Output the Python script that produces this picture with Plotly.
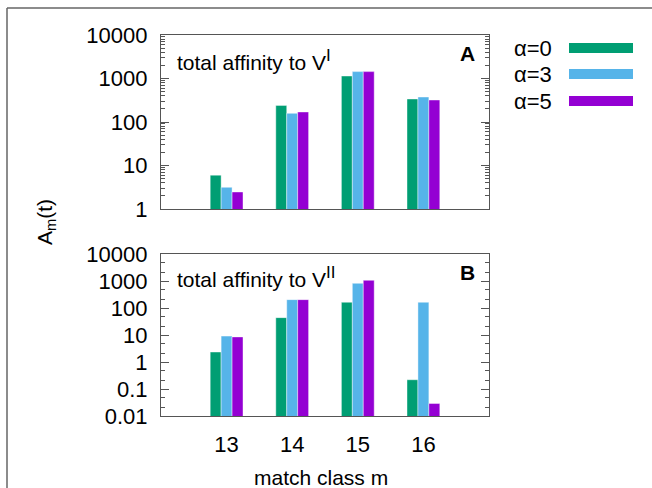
import plotly.graph_objects as go

categories = [13, 14, 15, 16]
series_names = ["α=0", "α=3", "α=5"]
colors = ["#009E73", "#56B4E9", "#9400D3"]

# Panel A: total affinity to V^I
panel_a = [
    [6.0, 241, 1140, 338],
    [3.15, 158, 1440, 375],
    [2.46, 170, 1440, 320],
]
# Panel B: total affinity to V^II
panel_b = [
    [2.34, 44, 163, 0.22],
    [9.1, 204, 820, 163],
    [8.5, 204, 1060, 0.029],
]

a_tickvals = [1, 10, 100, 1000, 10000]
a_ticktext = ["1", "10", "100", "1000", "10000"]
b_tickvals = [0.01, 0.1, 1, 10, 100, 1000, 10000]
b_ticktext = ["0.01", "0.1", "1", "10", "100", "1000", "10000"]

FONT = "Liberation Sans, Arial, sans-serif"
FS = 21
TFS = 22
AX = "#555555"

fig = go.Figure()
for vals, name, col in zip(panel_a, series_names, colors):
    fig.add_trace(go.Bar(x=categories, y=vals, name=name, marker_color=col,
                         marker_line=dict(color="rgba(255,255,255,0.7)", width=0.6),
                         xaxis="x", yaxis="y", showlegend=False))
for vals, name, col in zip(panel_b, series_names, colors):
    fig.add_trace(go.Bar(x=categories, y=vals, name=name, marker_color=col,
                         marker_line=dict(color="rgba(255,255,255,0.7)", width=0.6),
                         xaxis="x2", yaxis="y2", showlegend=False))

W, H = 652, 488
L, R, T, B = 161, 163, 35, 72
pw = W - L - R
ph = H - T - B

def px_x(p):
    return (p - L) / pw

def px_y(p):
    return 1 - (p - T) / ph

xcommon = dict(range=[12, 17], tickvals=categories, ticks="", showline=True,
               linecolor=AX, linewidth=1.2, mirror=True, showgrid=False,
               zeroline=False, tickfont=dict(size=TFS, color="black"))
ycommon = dict(type="log", showline=True, linecolor=AX, linewidth=1.2,
               mirror="ticks", ticks="inside", ticklen=8, tickcolor=AX,
               showgrid=False, zeroline=False, tickfont=dict(size=TFS, color="black"),
               ticklabelstandoff=8)

fig.update_layout(
    width=W, height=H,
    margin=dict(l=L, r=R, t=T, b=B),
    paper_bgcolor="white", plot_bgcolor="white",
    barmode="group", bargap=0.5, bargroupgap=0,
    font=dict(family=FONT, size=FS, color="black"),
    xaxis=dict(xcommon, domain=[0, 1], anchor="y", showticklabels=False),
    yaxis=dict(ycommon, domain=[px_y(209), 1], anchor="x", range=[0, 4],
               tickvals=a_tickvals, ticktext=a_ticktext,
               minor=dict(ticks="inside", ticklen=4, tickcolor=AX, dtick="D1")),
    xaxis2=dict(xcommon, domain=[0, 1], anchor="y2", showticklabels=True,
                ticklabelstandoff=8),
    yaxis2=dict(ycommon, domain=[0, px_y(254)], anchor="x2", range=[-2, 4],
                tickvals=b_tickvals, ticktext=b_ticktext,
                minor=dict(ticks="inside", ticklen=4, tickcolor=AX, dtick="D2")),
)

ann = [
    dict(x=px_x(175), y=px_y(60),
         text="total affinity to V<sup><span style='font-size:17px'>I</span></sup>",
         xanchor="left", yanchor="middle"),
    dict(x=px_x(175), y=px_y(277),
         text="total affinity to V<sup><span style='font-size:17px'>II</span></sup>",
         xanchor="left", yanchor="middle"),
    dict(x=px_x(477), y=px_y(53), text="<b>A</b>", xanchor="right", yanchor="middle"),
    dict(x=px_x(477), y=px_y(272), text="<b>B</b>", xanchor="right", yanchor="middle"),
    dict(x=px_x(321), y=px_y(477), text="match class m", xanchor="center", yanchor="middle"),
    dict(x=px_x(46), y=px_y(222), text="A<sub>m</sub>(t)", textangle=-90,
         xanchor="center", yanchor="middle"),
]
shapes = []
leg_y = [48, 74, 101]
for name, col, yy in zip(series_names, colors, leg_y):
    ann.append(dict(x=px_x(512), y=px_y(yy), text=name, xanchor="left", yanchor="middle",
                    font=dict(size=TFS)))
    shapes.append(dict(type="rect", xref="paper", yref="paper",
                       x0=px_x(569), x1=px_x(633), y0=px_y(yy + 5), y1=px_y(yy - 5),
                       fillcolor=col, line=dict(width=0)))

for a in ann:
    size = a.get("font", {}).get("size", FS)
    a.update(xref="paper", yref="paper", showarrow=False,
             font=dict(size=size, color="black", family=FONT))
fig.update_layout(annotations=ann)

# outer frame (top and left edges of the original figure border)
shapes.append(dict(type="line", xref="paper", yref="paper",
                   x0=px_x(7), x1=px_x(660), y0=px_y(8), y1=px_y(8),
                   line=dict(color="#666666", width=1.5)))
shapes.append(dict(type="line", xref="paper", yref="paper",
                   x0=px_x(7), x1=px_x(7), y0=px_y(8), y1=px_y(495),
                   line=dict(color="#666666", width=1.5)))
fig.update_layout(shapes=shapes)

fig.write_html("out.html")
